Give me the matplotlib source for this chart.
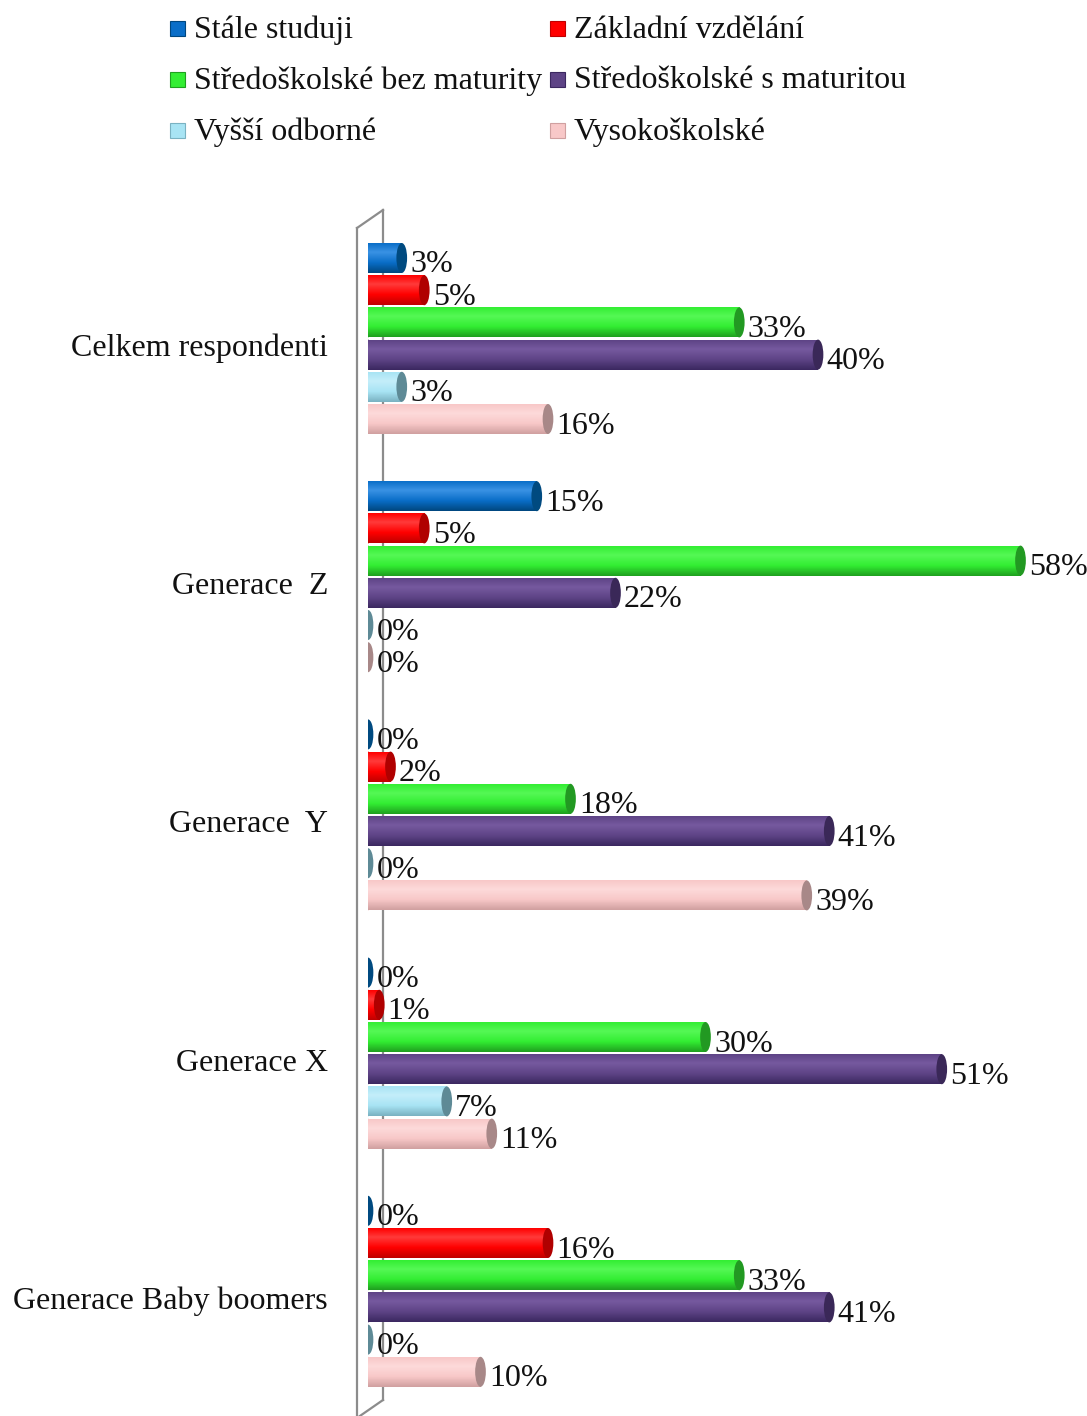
import matplotlib.pyplot as plt
import numpy as np
from matplotlib.colors import LinearSegmentedColormap
from matplotlib.patches import Ellipse, Rectangle

plt.rcParams['font.family'] = ['Liberation Serif', 'DejaVu Serif']

# Data (percent)
categories = ['Celkem respondenti', 'Generace  Z', 'Generace  Y', 'Generace X', 'Generace Baby boomers']
series = ['Stále studuji', 'Základní vzdělání', 'Středoškolské bez maturity',
          'Středoškolské s maturitou', 'Vyšší odborné', 'Vysokoškolské']
stale_studuji = [3, 15, 0, 0, 0]
zakladni = [5, 5, 2, 1, 16]
ss_bez_maturity = [33, 58, 18, 30, 33]
ss_s_maturitou = [40, 22, 41, 51, 41]
vyssi_odborne = [3, 0, 0, 7, 0]
vysokoskolske = [16, 0, 39, 11, 10]
values = [stale_studuji, zakladni, ss_bez_maturity, ss_s_maturitou, vyssi_odborne, vysokoskolske]

# (base, light, dark, cap)
palette = [
    ('#0A6EC8', '#3A92E4', '#00477F', '#004A80'),
    ('#FF0000', '#FF3A3A', '#C00000', '#B00000'),
    ('#33EE33', '#55F855', '#1FA01F', '#229922'),
    ('#5E4486', '#76599F', '#3B2860', '#3A2858'),
    ('#A8E4F4', '#C4EEFA', '#7AB2C2', '#5E8A96'),
    ('#F8C8C8', '#FDDADA', '#D0A0A0', '#A88888'),
]

W, H = 1087, 1416
fig = plt.figure(figsize=(W / 100, H / 100), dpi=100)
x0_px = 368
px_per_unit = 11.25
ax = fig.add_axes([x0_px / W, 0, (W - x0_px) / W, 1])
ax.set_facecolor('none')
for s in ax.spines.values():
    s.set_visible(False)
ax.set_xticks([])
ax.set_yticks([])

def xd(px):
    return (px - x0_px) / px_per_unit

# 3D wall lines (pixel layout)
wall = '#8C8C8C'
ax.plot([xd(383), xd(383)], [210, 1400], color=wall, lw=1.6, zorder=0, clip_on=False)
ax.plot([xd(357), xd(357)], [228, H + 5], color=wall, lw=1.6, zorder=0, clip_on=False)
ax.plot([xd(357), xd(383)], [228, 210], color=wall, lw=1.6, zorder=0, clip_on=False)
ax.plot([xd(383), xd(357)], [1400, 1418], color=wall, lw=1.6, zorder=0, clip_on=False)

group_c0 = 338.5
group_step = 238.2
slot = 32.2
bar_h = 30
cap_w = 0.95

for j, (vals, (base, light, dark, cap)) in enumerate(zip(values, palette)):
    cmap = LinearSegmentedColormap.from_list(
        'c%d' % j, [(0, base), (0.3, light), (0.65, base), (1, dark)])
    grad = np.linspace(0, 1, 64).reshape(-1, 1)
    for g, v in enumerate(vals):
        yc = group_c0 + g * group_step + (j - 2.5) * slot
        if v > 0:
            ax.imshow(grad, cmap=cmap, aspect='auto', origin='upper',
                      extent=(0, v, yc + bar_h / 2, yc - bar_h / 2),
                      zorder=2, interpolation='bilinear')
            ax.add_patch(Ellipse((0, yc), cap_w, bar_h, facecolor=base,
                                 edgecolor='none', zorder=1.9))
        ax.add_patch(Ellipse((v, yc), cap_w, bar_h, facecolor=cap,
                             edgecolor='none', zorder=3))
        ax.text(v + 0.75, yc + 7, '%d%%' % v, fontsize=23, va='center',
                ha='left', color='#111111', zorder=4, clip_on=False)

for g, cat in enumerate(categories):
    yc = group_c0 + g * group_step + 10
    ax.text(xd(328), yc, cat, fontsize=23, ha='right', va='center',
            color='#111111', clip_on=False)

ax.set_xlim(0, (W - x0_px) / px_per_unit)
ax.set_ylim(H, 0)

# Legend (row-wise, 2 columns)
leg_x = [170, 550]
leg_y = [28, 79, 130]
for k, name in enumerate(series):
    col, row = k % 2, k // 2
    mx, my = leg_x[col], leg_y[row]
    fig.patches.append(Rectangle((mx / W, 1 - (my + 8) / H), 15 / W, 15 / H,
                                 transform=fig.transFigure, facecolor=palette[k][0],
                                 edgecolor=palette[k][2], lw=0.8))
    fig.text((mx + 24) / W, 1 - (my + 2) / H, name, fontsize=23, va='center',
             ha='left', color='#111111')

fig.savefig('out.png', dpi=100)
